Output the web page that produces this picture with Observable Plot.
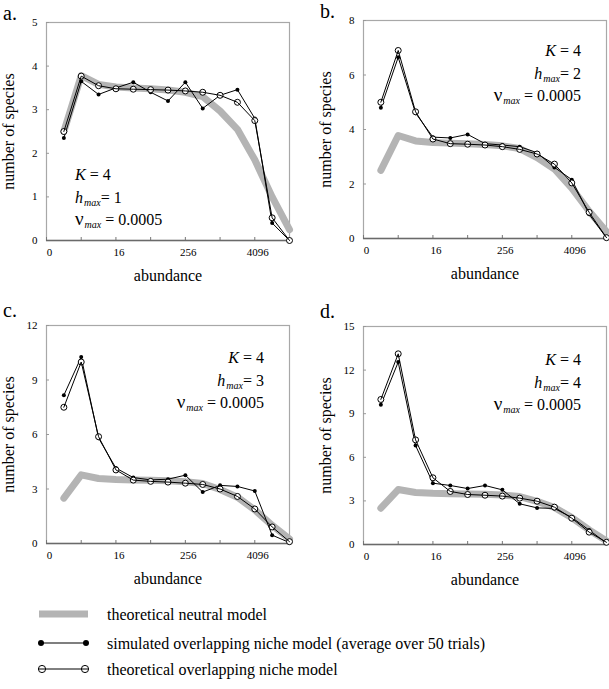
<!DOCTYPE html>
<html>
<head>
<meta charset="utf-8">
<script src="https://cdn.jsdelivr.net/npm/d3@7"></script>
<script src="https://cdn.jsdelivr.net/npm/@observablehq/plot@0.6"></script>
<style>
  html, body { margin: 0; padding: 0; background: #fff; }
  #root { position: relative; width: 609px; height: 689px; background: #fff; font-family: "Liberation Serif", "Times New Roman", serif; color: #000; overflow: hidden; }
  .panel { position: absolute; width: 292px; height: 290px; }
  .panel svg { position: absolute; left: 0; top: 0; }
  .plabel { position: absolute; font-size: 20px; line-height: 1; }
  .ann { position: absolute; font-size: 16px; line-height: 22.5px; white-space: nowrap; }
  .ann i { font-style: italic; }
  .ann .nu { font-size: 19px; line-height: 0; }
  .ann sub { font-size: 10px; font-style: italic; vertical-align: -3px; line-height: 0; margin-left: 1px; }
  [aria-label="x-axis label"] text, [aria-label="y-axis label"] text { font-size: 16px; }
  .legend { position: absolute; left: 0; top: 600px; }
  .legend text { font-family: "Liberation Serif", serif; font-size: 16px; }
</style>
</head>
<body>
<div id="root"></div>
<script>
// ---------- data ----------
const octave = [1, 2, 3, 4, 5, 6, 7, 8, 9, 10, 11, 12, 13, 14];
const xTicks = [0, 2, 4, 6, 8, 10, 12, 14];
const xTickLabels = ["0", "", "16", "", "256", "", "4096", ""];

const neutral = [2.5, 3.78, 3.58, 3.52, 3.5, 3.48, 3.45, 3.4, 3.3, 2.97, 2.55, 1.85, 1.0, 0.25];

const simA  = [2.35, 3.65, 3.35, 3.5, 3.63, 3.4, 3.2, 3.63, 3.03, 3.33, 3.46, 2.8, 0.4, 0.0];
const theoA = [2.5, 3.77, 3.55, 3.48, 3.47, 3.46, 3.45, 3.43, 3.4, 3.33, 3.17, 2.75, 0.52, 0.0];

const simB  = [4.8, 6.65, 4.6, 3.72, 3.69, 3.82, 3.48, 3.43, 3.37, 3.15, 2.61, 2.16, 0.89, 0.02];
const theoB = [5.0, 6.9, 4.65, 3.65, 3.48, 3.46, 3.43, 3.37, 3.27, 3.1, 2.73, 2.04, 0.96, 0.03];

const simC  = [8.16, 10.26, 5.8, 4.15, 3.63, 3.5, 3.54, 3.76, 2.83, 3.2, 3.14, 2.89, 0.46, 0.05];
const theoC = [7.5, 9.99, 5.88, 4.05, 3.49, 3.42, 3.38, 3.32, 3.25, 3.0, 2.59, 1.9, 0.91, 0.1];

const simD  = [9.61, 12.55, 6.81, 4.22, 4.06, 3.85, 4.06, 3.76, 2.8, 2.52, 2.48, 1.86, 0.99, 0.1];
const theoD = [9.98, 13.12, 7.2, 4.59, 3.65, 3.44, 3.39, 3.33, 3.19, 2.98, 2.57, 1.81, 0.85, 0.15];

const panelLetters = ["a.", "b.", "c.", "d."];
const hmaxValues = [1, 2, 3, 4];
const yMax = [5, 8, 12, 15];
const yStep = [1, 2, 3, 3];
const Kvalue = 4;
const numax = "0.0005";

const legendLabels = [
  "theoretical neutral model",
  "simulated overlapping niche model (average over 50 trials)",
  "theoretical overlapping niche model"
];

// ---------- layout ----------
const panelPos = [[0, 0], [317, -2], [0, 303], [317, 304]];
const annPos = [
  {left: 75, top: 164, align: "left"},
  {right: 28, top: 42, align: "right"},
  {right: 28, top: 44, align: "right"},
  {right: 28, top: 45, align: "right"}
];
const sims = [simA, simB, simC, simD];
const theos = [theoA, theoB, theoC, theoD];

const root = document.getElementById("root");
const toRows = arr => octave.map((x, i) => ({x, y: arr[i]}));
const neutralRows = toRows(neutral);

for (let p = 0; p < 4; p++) {
  const sim = toRows(sims[p]);
  const theo = toRows(theos[p]);
  const yTicks = d3.range(0, yMax[p] + 0.001, yStep[p]);
  const chart = Plot.plot({
    width: 292,
    height: 290,
    marginLeft: 46,
    marginRight: 3,
    marginTop: 22,
    marginBottom: 50,
    style: {fontFamily: "'Liberation Serif', serif", fontSize: "11px", background: "transparent", overflow: "visible"},
    x: {domain: [0, 14]},
    y: {domain: [0, yMax[p]]},
    marks: [
      Plot.frame({stroke: "#a8a8a8", strokeWidth: 1.2}),
      // tick marks (inward), no text
      Plot.axisX({ticks: xTicks, tickFormat: () => "", tickSize: -3, stroke: "#777", label: null}),
      // tick labels, nudged slightly right as in the original
      Plot.axisX({ticks: xTicks, tickFormat: d => xTickLabels[xTicks.indexOf(d)], tickSize: 0, tickPadding: 8, dx: 3,
        label: "abundance", labelAnchor: "center", labelArrow: "none", labelOffset: 40}),
      Plot.axisY({ticks: yTicks, tickFormat: d => String(d), tickSize: -3, tickPadding: 12, stroke: "#999",
        label: "number of species", labelAnchor: "center", labelArrow: "none", labelOffset: 44}),
      Plot.ruleY([0], {stroke: "#6a6a6a", strokeWidth: 1.6}),
      Plot.line(neutralRows, {x: "x", y: "y", stroke: "#b4b4b4", strokeWidth: 7, strokeLinejoin: "round", strokeLinecap: "round"}),
      Plot.line(sim, {x: "x", y: "y", stroke: "#000", strokeWidth: 1}),
      Plot.dot(sim, {x: "x", y: "y", r: 2, fill: "#000"}),
      Plot.dot(theo, {x: "x", y: "y", r: 3, fill: "#fff", stroke: "#000", strokeWidth: 1}),
      Plot.line(theo, {x: "x", y: "y", stroke: "#000", strokeWidth: 1})
    ]
  });
  const div = document.createElement("div");
  div.className = "panel";
  div.style.left = panelPos[p][0] + "px";
  div.style.top = panelPos[p][1] + "px";
  div.appendChild(chart);

  const lab = document.createElement("div");
  lab.className = "plabel";
  lab.textContent = panelLetters[p];
  lab.style.left = "3px";
  lab.style.top = (p < 2 ? 3 : -3) + "px";
  div.appendChild(lab);

  const ann = document.createElement("div");
  ann.className = "ann";
  const a = annPos[p];
  if (a.left != null) ann.style.left = a.left + "px";
  if (a.right != null) ann.style.right = a.right + "px";
  ann.style.top = a.top + "px";
  ann.style.textAlign = a.align;
  ann.innerHTML = `<div><i>K</i> = ${Kvalue}</div><div><i>h</i><sub>max</sub>= ${hmaxValues[p]}</div><div><span class="nu">&nu;</span><sub>max</sub> = ${numax}</div>`;
  div.appendChild(ann);
  root.appendChild(div);
}

// ---------- legend ----------
const ns = "http://www.w3.org/2000/svg";
const leg = document.createElementNS(ns, "svg");
leg.setAttribute("class", "legend");
leg.setAttribute("width", 609);
leg.setAttribute("height", 89);
const rowY = [14, 43, 69];
const mk = (tag, attrs) => { const e = document.createElementNS(ns, tag); for (const k in attrs) e.setAttribute(k, attrs[k]); leg.appendChild(e); return e; };
// row 1: gray bar
mk("line", {x1: 39, x2: 88, y1: rowY[0], y2: rowY[0], stroke: "#b4b4b4", "stroke-width": 7});
// row 2: filled dots
mk("line", {x1: 41, x2: 86, y1: rowY[1], y2: rowY[1], stroke: "#000", "stroke-width": 1.2});
mk("circle", {cx: 41, cy: rowY[1], r: 3, fill: "#000"});
mk("circle", {cx: 86, cy: rowY[1], r: 3, fill: "#000"});
// row 3: open circles with line through
mk("circle", {cx: 42, cy: rowY[2], r: 3.6, fill: "#fff", stroke: "#000", "stroke-width": 1});
mk("circle", {cx: 85, cy: rowY[2], r: 3.6, fill: "#fff", stroke: "#000", "stroke-width": 1});
mk("line", {x1: 38.4, x2: 88.6, y1: rowY[2], y2: rowY[2], stroke: "#000", "stroke-width": 1});
legendLabels.forEach((t, i) => {
  const tx = mk("text", {x: 107, y: rowY[i], dy: "0.35em"});
  tx.textContent = t;
});
root.appendChild(leg);
</script>
</body>
</html>
